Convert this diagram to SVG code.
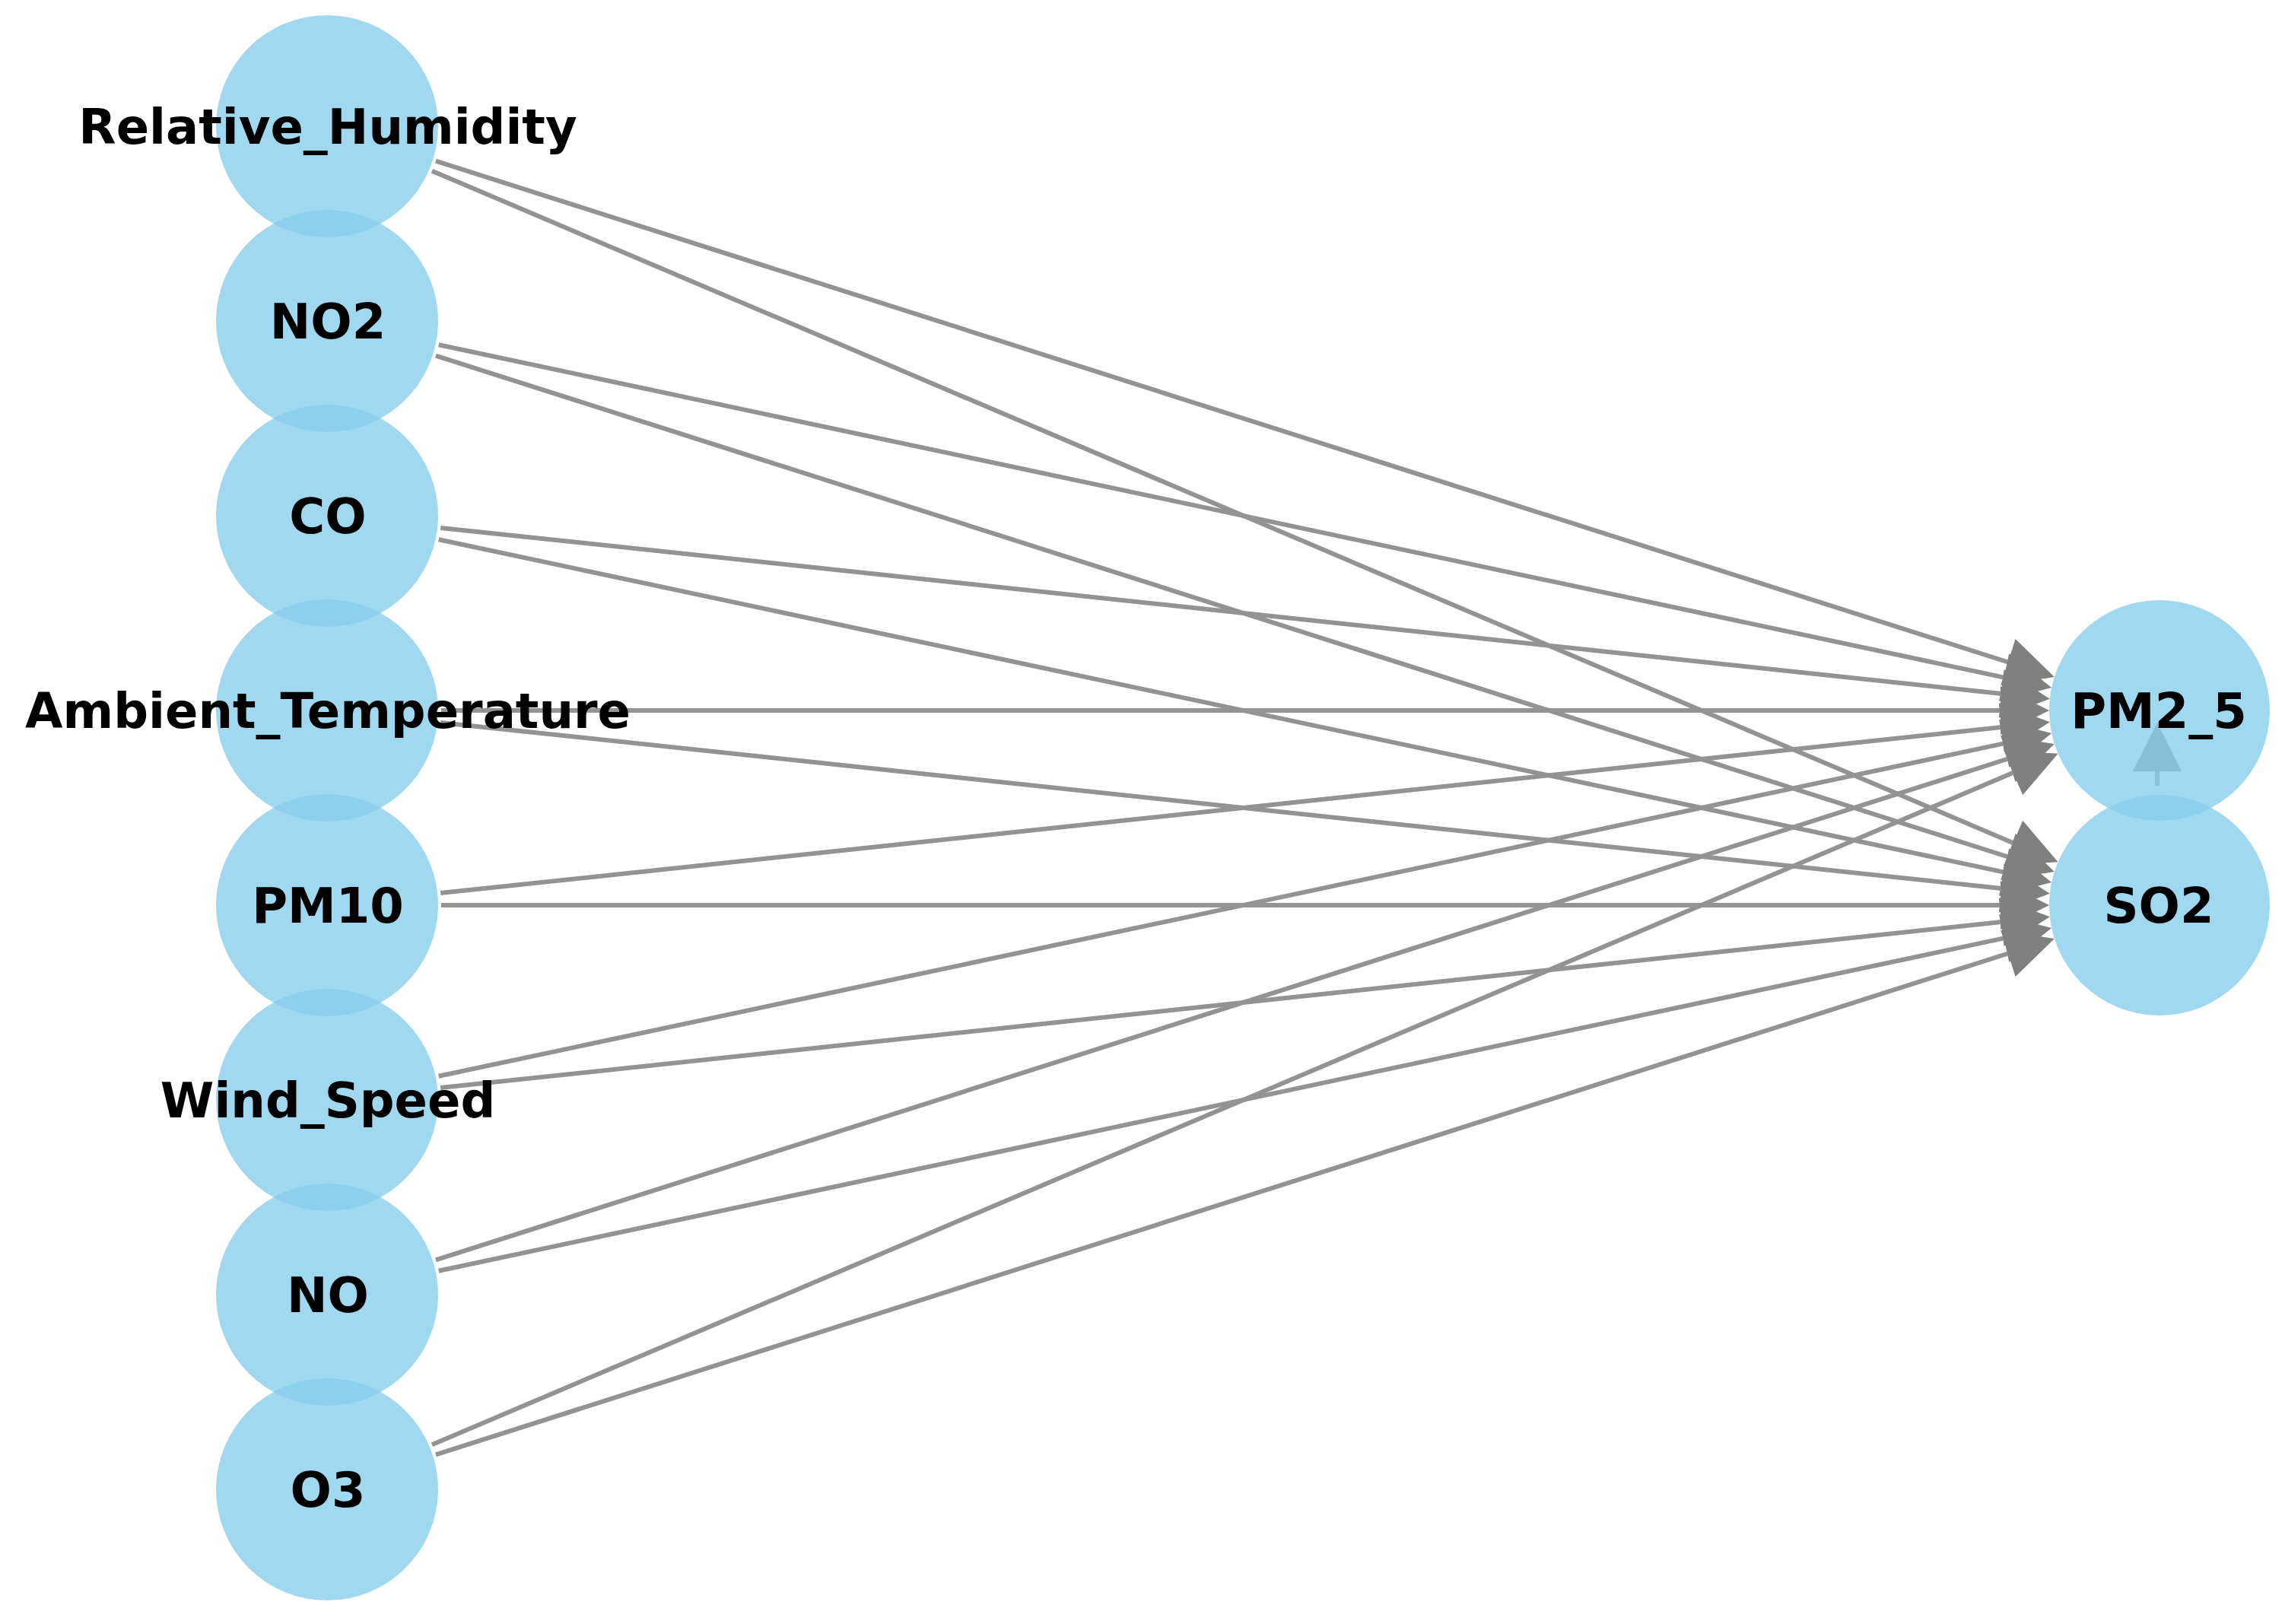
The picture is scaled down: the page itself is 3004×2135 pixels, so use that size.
<svg xmlns="http://www.w3.org/2000/svg" width="3004" height="2135" viewBox="0 0 3004 2135">
<style>
.edge{stroke:#939393;stroke-width:6;fill:none;marker-end:url(#ah);}
.node circle{fill:#87CEEB;fill-opacity:0.8;}
.node text{font-family:"DejaVu Sans","Liberation Sans",sans-serif;font-weight:bold;font-size:64px;fill:#000;text-anchor:middle;}
</style>
<defs>
<marker id="ah" markerUnits="userSpaceOnUse" markerWidth="70" markerHeight="70" viewBox="0 -35 70 70" refX="0" refY="0" orient="auto" overflow="visible">
<path d="M0,-32 L64,0 L0,32 z" fill="#808080"/>
</marker>
</defs>
<rect width="3004" height="2135" fill="#ffffff"/>
<g id="edges">
<line class="edge" x1="572.9" y1="211.6" x2="2639.9" y2="870.5"/>
<line class="edge" x1="568.0" y1="224.7" x2="2646.7" y2="1108.2"/>
<line class="edge" x1="576.7" y1="453.2" x2="2634.6" y2="890.6"/>
<line class="edge" x1="572.9" y1="467.6" x2="2639.9" y2="1126.5"/>
<line class="edge" x1="579.2" y1="693.9" x2="2631.2" y2="911.9"/>
<line class="edge" x1="576.7" y1="709.2" x2="2634.6" y2="1146.6"/>
<line class="edge" x1="580" y1="934" x2="2630" y2="934"/>
<line class="edge" x1="579.2" y1="949.9" x2="2631.2" y2="1167.9"/>
<line class="edge" x1="579.2" y1="1174.1" x2="2631.2" y2="956.1"/>
<line class="edge" x1="580" y1="1190" x2="2630" y2="1190"/>
<line class="edge" x1="576.7" y1="1414.8" x2="2634.6" y2="977.4"/>
<line class="edge" x1="579.2" y1="1430.1" x2="2631.2" y2="1212.1"/>
<line class="edge" x1="572.9" y1="1656.4" x2="2639.9" y2="997.5"/>
<line class="edge" x1="576.7" y1="1670.8" x2="2634.6" y2="1233.4"/>
<line class="edge" x1="568.0" y1="1899.3" x2="2646.7" y2="1015.8"/>
<line class="edge" x1="572.9" y1="1912.4" x2="2639.9" y2="1253.5"/>
<line class="edge" x1="2836" y1="1033" x2="2836" y2="1014"/>
</g>
<g id="node-Relative_Humidity" class="node"><circle cx="430" cy="166" r="146"/><text x="431" y="189">Relative_Humidity</text></g>
<g id="node-NO2" class="node"><circle cx="430" cy="422" r="146"/><text x="431" y="445">NO2</text></g>
<g id="node-CO" class="node"><circle cx="430" cy="678" r="146"/><text x="431" y="701">CO</text></g>
<g id="node-Ambient_Temperature" class="node"><circle cx="430" cy="934" r="146"/><text x="431" y="957">Ambient_Temperature</text></g>
<g id="node-PM10" class="node"><circle cx="430" cy="1190" r="146"/><text x="431" y="1213">PM10</text></g>
<g id="node-Wind_Speed" class="node"><circle cx="430" cy="1446" r="146"/><text x="431" y="1469">Wind_Speed</text></g>
<g id="node-NO" class="node"><circle cx="430" cy="1702" r="146"/><text x="431" y="1725">NO</text></g>
<g id="node-O3" class="node"><circle cx="430" cy="1958" r="146"/><text x="431" y="1981">O3</text></g>
<g id="node-PM2_5" class="node"><circle cx="2839" cy="934" r="145"/><text x="2838" y="957">PM2_5</text></g>
<g id="node-SO2" class="node"><circle cx="2839" cy="1190" r="145"/><text x="2838" y="1213">SO2</text></g>
</svg>
